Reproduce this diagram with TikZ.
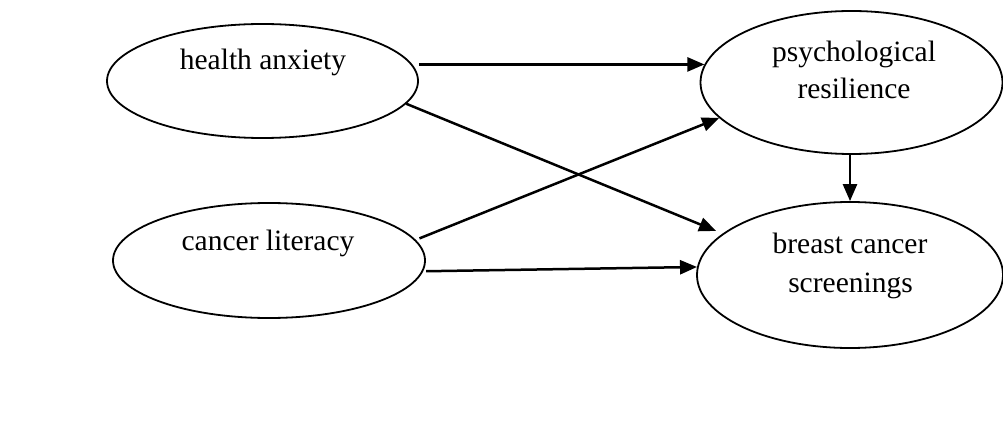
\documentclass[tikz,border=0pt]{standalone}
\usepackage{fontspec}
\setmainfont{Liberation Serif}
\usetikzlibrary{shapes.geometric,arrows.meta}
\tikzset{
  oval/.style={draw=black, line width=1.8pt, ellipse, inner sep=0pt},
  lbl/.style={anchor=base, inner sep=0pt, font=\fontsize{29.5}{35}\selectfont},
  arr/.style={line width=2.5pt, -{Triangle[length=17pt,width=14pt]}}
}
\begin{document}
\begin{tikzpicture}[x=1pt,y=-1pt]
\useasboundingbox (0,0) rectangle (1003,422);
\node[oval, minimum width=311pt, minimum height=114pt] (ha) at (262.5,81) {};
\node[oval, minimum width=302pt, minimum height=143pt] (pr) at (851.5,82.5) {};
\node[oval, minimum width=312pt, minimum height=115pt] (cl) at (269,260.5) {};
\node[oval, minimum width=306pt, minimum height=146pt] (bc) at (850,275) {};
\node[lbl] (ha-t) at (263,70) {health anxiety};
\node[lbl] (pr-t1) at (854,62) {psychological};
\node[lbl] (pr-t2) at (854,99) {resilience};
\node[lbl] (cl-t) at (268,250) {cancer literacy};
\node[lbl] (bc-t1) at (850,253) {breast cancer};
\node[lbl] (bc-t2) at (850.5,292.5) {screenings};
\draw[arr] (pr.173 -| ha.east) -- (pr.173);
\draw[arr, shorten >=7pt] (ha.-9) -- (bc.162);
\draw[arr, shorten <=4pt] (cl.8) -- (pr.195);
\draw[arr, shorten <=3pt] (cl.-4.6) -- (bc.177);
\draw[arr] (bc.north |- pr.south) -- (bc.north);
\end{tikzpicture}
\end{document}
